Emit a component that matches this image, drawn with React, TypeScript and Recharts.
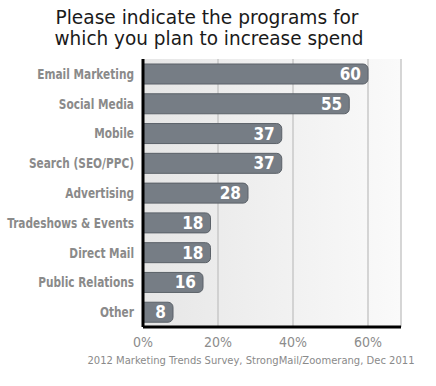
import React from 'react';
import { BarChart, Bar, XAxis, YAxis, CartesianGrid, LabelList } from 'recharts';

const categories = [
  'Email Marketing',
  'Social Media',
  'Mobile',
  'Search (SEO/PPC)',
  'Advertising',
  'Tradeshows & Events',
  'Direct Mail',
  'Public Relations',
  'Other',
];
const values = [60, 55, 37, 37, 28, 18, 18, 16, 8];
const xTicks = [0, 20, 40, 60];
const titleLines = ['Please indicate the programs for', 'which you plan to increase spend'];
const footer = '2012 Marketing Trends Survey, StrongMail/Zoomerang, Dec 2011';

const data = categories.map((name, i) => ({ name, value: values[i] }));

const CategoryTick = (props: any) => {
  const { x, y, payload } = props;
  return (
    <g transform={`translate(${x},${y}) scale(0.84,1)`}>
      <text
        x={0}
        y={0}
        dy="0.36em"
        textAnchor="end"
        fill="#8a8a8a"
        fontSize={14}
        fontWeight="bold"
        fontFamily="DejaVu Sans Condensed"
      >
        {payload.value}
      </text>
    </g>
  );
};

export default function App() {
  return (
    <div style={{ position: 'absolute', left: 0, top: 0, width: 436, height: 386, background: '#ffffff' }}>
      <BarChart
        width={436}
        height={386}
        data={data}
        layout="vertical"
        margin={{ top: 59, right: 35, bottom: 29, left: 0 }}
        barCategoryGap={5}
      >
        <defs>
          <linearGradient id="bgGrad" x1="0" y1="0" x2="1" y2="0">
            <stop offset="0%" stopColor="#e6e6e6" />
            <stop offset="100%" stopColor="#fafafa" />
          </linearGradient>
        </defs>
        <CartesianGrid horizontal={false} vertical={true} stroke="#c9c9c9" strokeWidth={1.5} fill="url(#bgGrad)" />
        <XAxis
          type="number"
          domain={[0, 68.8]}
          ticks={xTicks}
          tickFormatter={(v: number) => `${v}%`}
          axisLine={{ stroke: '#000', strokeWidth: 3 }}
          tickLine={false}
          tickSize={0}
          tickMargin={10}
          height={30}
          tick={{ fill: '#8c8c8c', fontSize: 14, fontFamily: 'DejaVu Sans Condensed' }}
          allowDataOverflow
        />
        <YAxis
          type="category"
          dataKey="name"
          width={143}
          axisLine={{ stroke: '#000', strokeWidth: 3 }}
          tickLine={false}
          tickSize={0}
          tickMargin={9}
          tick={<CategoryTick />}
          interval={0}
        />
        <Bar
          dataKey="value"
          fill="#767d85"
          stroke="#5b6168"
          strokeWidth={1}
          radius={[0, 5, 5, 0]}
          isAnimationActive={false}
        >
          <LabelList
            dataKey="value"
            position="insideRight"
            offset={7}
            fill="#ffffff"
            style={{ fontSize: 17, fontWeight: 'bold', fontFamily: 'DejaVu Sans Condensed' }}
          />
        </Bar>
      </BarChart>
      <svg width={436} height={386} style={{ position: 'absolute', left: 0, top: 0, pointerEvents: 'none' }}>
        <text x={207} y={24} textAnchor="middle" fontSize={19} fill="#1a1a1a" fontFamily="DejaVu Sans Condensed" textLength={303} lengthAdjust="spacingAndGlyphs">
          {titleLines[0]}
        </text>
        <text x={209} y={45} textAnchor="middle" fontSize={19} fill="#1a1a1a" fontFamily="DejaVu Sans Condensed" textLength={309} lengthAdjust="spacingAndGlyphs">
          {titleLines[1]}
        </text>
        <text x={251} y={364} textAnchor="middle" fontSize={11} fill="#8a8a8a" fontFamily="DejaVu Sans Condensed" textLength={327} lengthAdjust="spacingAndGlyphs">
          {footer}
        </text>
      </svg>
    </div>
  );
}
